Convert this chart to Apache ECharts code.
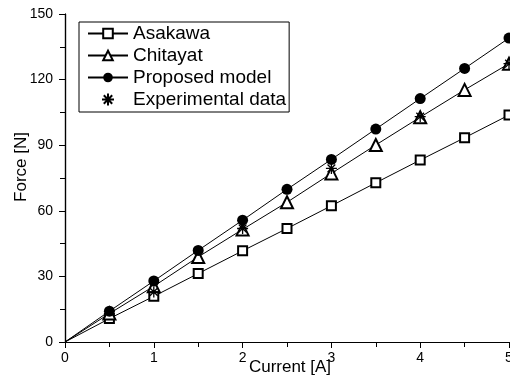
<!DOCTYPE html>
<html>
<head>
<meta charset="utf-8">
<script src="https://cdn.jsdelivr.net/npm/echarts@6/dist/echarts.min.js"></script>
<style>
  html, body { margin: 0; padding: 0; background: #fff; }
  #chart { width: 510px; height: 381px; }
</style>
</head>
<body>
<div id="chart"></div>
<script>
// Current steps (A) for the three model curves
const current = [0, 0.5, 1, 1.5, 2, 2.5, 3, 3.5, 4, 4.5, 5];
// Force (N) per model
const asakawa  = [0, 10.7, 20.9, 31.3, 41.7, 51.9, 62.3, 72.8, 83.2, 93.4, 103.8];
const chitayat = [0, 13.0, 25.5, 38.9, 51.5, 63.9, 77.1, 90.1, 102.8, 115.3, 127.3];
const proposed = [0, 14.1, 27.9, 41.9, 55.7, 69.8, 83.5, 97.4, 111.3, 125.1, 139.0];
// Measured points
const expCurrent = [1, 2, 3, 4, 5];
const expForce   = [22.9, 51.9, 79.4, 103.1, 127.3];

const xTicks = [0, 1, 2, 3, 4, 5];
const yTicks = [0, 30, 60, 90, 120, 150];

const FONT = 'Liberation Sans, Arial, sans-serif';
const pair = (xs, ys) => xs.map((x, i) => [x, ys[i]]);
// no marker at the origin, only the line starting there
const sizeAt = (s) => (v) => (v[0] === 0 ? 0 : s);

// eight-armed star drawn as strokes
const asterisk = 'path://M5,0 L5,10 M0,5 L10,5 M1.5,1.5 L8.5,8.5 M1.5,8.5 L8.5,1.5';

const frameAxis = {
  axisLine: { show: true, lineStyle: { color: '#000', width: 1.2 } },
  splitLine: { show: false },
};

const chart = echarts.init(document.getElementById('chart'), null, { renderer: 'canvas' });
chart.setOption({
  backgroundColor: '#fff',
  animation: false,
  grid: { left: 65, right: 1, top: 14, bottom: 39, outerBoundsMode: 'none', containLabel: false },
  xAxis: [
    Object.assign({}, frameAxis, {
      type: 'value', min: 0, max: 5, interval: 1, position: 'bottom',
      axisTick: { show: true, inside: false, length: 6, lineStyle: { color: '#000' } },
      minorTick: { show: true, splitNumber: 2, length: 4, lineStyle: { color: '#000' } },
      axisLabel: {
        color: '#000', fontSize: 14, fontFamily: FONT, margin: 9,
        formatter: (v) => (xTicks.includes(v) ? String(v) : '')
      }
    }),
    Object.assign({}, frameAxis, {
      type: 'value', min: 0, max: 5, interval: 0.5, position: 'top',
      axisTick: { show: true, inside: true, length: 5, lineStyle: { color: '#000' } },
      axisLabel: { show: false }
    })
  ],
  yAxis: [
    Object.assign({}, frameAxis, {
      type: 'value', min: 0, max: 150, interval: 30, position: 'left',
      axisTick: { show: true, inside: false, length: 6, lineStyle: { color: '#000' } },
      minorTick: { show: true, splitNumber: 2, length: 4, lineStyle: { color: '#000' } },
      axisLabel: {
        color: '#000', fontSize: 14, fontFamily: FONT, margin: 12,
        formatter: (v) => (yTicks.includes(v) ? String(v) : '')
      }
    }),
    Object.assign({}, frameAxis, {
      type: 'value', min: 0, max: 150, interval: 15, position: 'right',
      axisTick: { show: true, inside: true, length: 5, lineStyle: { color: '#000' } },
      axisLabel: { show: false }
    })
  ],
  legend: {
    orient: 'vertical',
    left: 79, top: 22,
    padding: [2, 3, 3, 8],
    itemGap: 3,
    itemWidth: 40,
    itemHeight: 12,
    borderColor: '#000', borderWidth: 1,
    backgroundColor: '#fff',
    textStyle: { color: '#000', fontSize: 19, fontFamily: FONT },
    data: ['Asakawa', 'Chitayat', 'Proposed model', 'Experimental data']
  },
  graphic: [
    {
      type: 'text', x: 21, y: 167, rotation: Math.PI / 2,
      style: { text: 'Force [N]', fill: '#000', font: '17px ' + FONT, align: 'center', verticalAlign: 'middle' }
    },
    {
      type: 'text', x: 290, y: 367,
      style: { text: 'Current [A]', fill: '#000', font: '17px ' + FONT, align: 'center', verticalAlign: 'middle' }
    }
  ],
  series: [
    {
      name: 'Asakawa', type: 'line', data: pair(current, asakawa),
      symbol: 'emptyRect', symbolSize: sizeAt(9), clip: false,
      itemStyle: { color: '#000', borderWidth: 1 },
      lineStyle: { color: '#000', width: 1 }
    },
    {
      name: 'Chitayat', type: 'line', data: pair(current, chitayat),
      symbol: 'emptyTriangle', symbolSize: sizeAt(12), clip: false,
      itemStyle: { color: '#000', borderWidth: 1 },
      lineStyle: { color: '#000', width: 1 }
    },
    {
      name: 'Proposed model', type: 'line', data: pair(current, proposed),
      symbol: 'circle', symbolSize: sizeAt(11), clip: false,
      itemStyle: { color: '#000' },
      lineStyle: { color: '#000', width: 1 }
    },
    {
      name: 'Experimental data', type: 'scatter', data: pair(expCurrent, expForce),
      symbol: asterisk, symbolSize: 11, clip: false, z: 10,
      itemStyle: { color: '#000', borderColor: '#000', borderWidth: 1.3, opacity: 1 }
    }
  ]
});
</script>
</body>
</html>
